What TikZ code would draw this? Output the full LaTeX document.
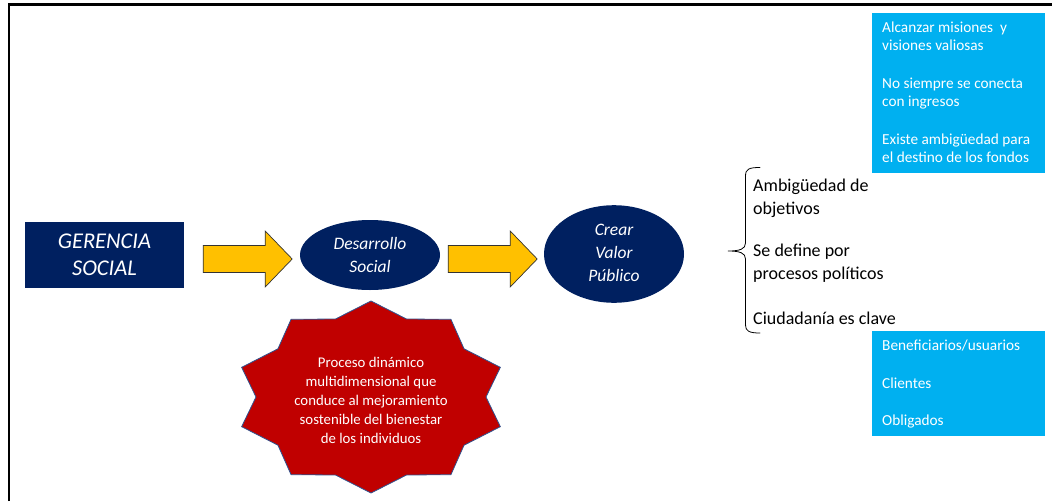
\documentclass[tikz,border=0pt]{standalone}
\usepackage{fontspec}
\setmainfont{Carlito}
\usetikzlibrary{calc,shapes.geometric}
\definecolor{navy}{HTML}{002060}
\definecolor{gold}{HTML}{FFC000}
\definecolor{crimson}{HTML}{C00000}
\definecolor{starline}{HTML}{2F528F}
\definecolor{skyblue}{HTML}{00B0F0}
\begin{document}
\begin{tikzpicture}[x=1pt,y=-1pt,
  navybox/.style={fill=navy,draw=none,minimum width=159pt,minimum height=66pt,inner sep=0pt,
    text=white,align=center,font=\itshape\fontsize{22.5}{27}\selectfont},
  navyoval/.style={ellipse,fill=navy,draw=none,minimum width=140pt,inner sep=0pt,
    text=white,align=center,font=\itshape\fontsize{17.5}{23}\selectfont},
  blockarrow/.style={fill=gold,draw=black!80,line width=0.7pt,line join=miter},
  infobox/.style={fill=skyblue,draw=none},
  infotext/.style={text=white,align=left,anchor=north west,inner sep=0pt,
    font=\fontsize{15.3}{18}\selectfont},
  bracetext/.style={text=black,align=left,anchor=west,inner sep=0pt,
    font=\fontsize{18}{23}\selectfont},
  starshape/.style={fill=crimson,draw=starline,line width=0.8pt,line join=miter},
]
\useasboundingbox (0,0) rectangle (1052,501);

% outer frame (only top and left edges fall inside the page)
\draw[line width=2.5pt] (9,501) -- (9,4.5) -- (1052,4.5);

% main chain
\node[navybox] (gs) at (104.5,255) {GERENCIA\\SOCIAL};
\node[navyoval,minimum height=70pt] (ds) at (370,255) {Desarrollo\\Social};
\node[navyoval,minimum height=74pt] (vp) at (614,254) {\raisebox{6pt}{\begin{tabular}{@{}c@{}}Crear\\Valor\\Público\end{tabular}}};

% block arrows between the shapes
\coordinate (a1) at ($(gs.east)+(19,4)$);
\coordinate (a2) at ($(ds.east)+(8,4)$);
\foreach \a in {a1,a2}{
  \draw[blockarrow] (\a) ++(0,-13.5) -- ++(62,0) -- ++(0,-14.5) -- ++(27,28)
    -- ++(-27,28) -- ++(0,-14.5) -- ++(-62,0) -- cycle;
}

% ten-pointed star with its description
\fill[starshape] plot[samples at={0,...,19}] ({371+(mod(\x,2)==0?136:115)*cos(90+18*\x)},
  {397-(mod(\x,2)==0?96:82)*sin(90+18*\x)}) -- cycle;
\node[text=white,align=center,inner sep=0pt,font=\fontsize{14.8}{19}\selectfont] (proc) at (371,400)
  {Proceso dinámico\\multidimensional que\\conduce al mejoramiento\\sostenible del bienestar\\de los individuos};

% curly brace grouping the features of public value
\draw[line width=0.8pt,line cap=round]
  (760,167.5) .. controls (749,167.5) and (745.5,169) .. (745.5,176)
  -- (745.5,243) .. controls (745.5,249) and (740,251) .. (728,251)
  .. controls (740,251) and (745.5,253) .. (745.5,259)
  -- (745.5,325) .. controls (745.5,331) and (749,333) .. (760,333);
\coordinate (brace) at (728,251);

\node[bracetext] (t1) at (753,198) {Ambigüedad de\\objetivos};
\node[bracetext] (t2) at (753,263) {Se define por\\procesos políticos};
\node[bracetext] (t3) at (753,318) {Ciudadanía es clave};

% light blue information boxes
\fill[infobox] (872,13) rectangle (1045,173);
\node[infotext] (mis) at (882,22) {Alcanzar misiones\ \ y\\visiones valiosas\\[20pt]
  No siempre se conecta\\con ingresos\\[20pt]Existe ambigüedad para\\el destino de los fondos};

\fill[infobox] (872,331) rectangle (1045,436);
\node[infotext] (act) at (882,340) {Beneficiarios/usuarios\\[19.5pt]Clientes\\[19.5pt]Obligados};
\end{tikzpicture}
\end{document}
